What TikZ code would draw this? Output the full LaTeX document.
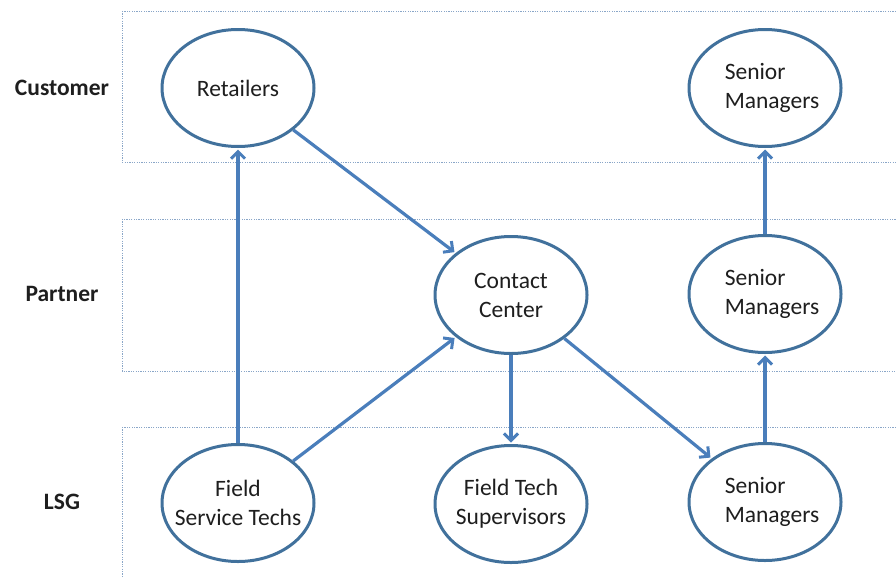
\documentclass[tikz,border=0pt]{standalone}
\usepackage{fontspec}
\setmainfont{Carlito}
\usetikzlibrary{arrows.meta,shapes.geometric}
\definecolor{ellc}{HTML}{41719C}
\definecolor{arrc}{HTML}{4A7EBB}
\definecolor{lanec}{HTML}{8AA6C8}
\definecolor{txt}{HTML}{1E1E1E}
\tikzset{
  lane/.style={draw=lanec, line width=0.9pt, dash pattern=on 1.2pt off 1.2pt},
  lanelabel/.style={font=\fontsize{23.5}{28}\selectfont\bfseries, text=txt, anchor=center},
  role/.style={ellipse, draw=ellc, line width=3pt, fill=white, minimum width=152pt, minimum height=117pt, inner xsep=-15pt, inner ysep=0pt, align=center, text=txt, font=\fontsize{23.5}{29}\selectfont},
  roleL/.style={role, align=left},
  flow/.style={draw=arrc, line width=3.2pt, -{Straight Barb[length=7pt,width=14pt,line width=3pt]}, shorten >=1.5pt}
}
\begin{document}
\begin{tikzpicture}[x=1pt,y=-1pt]
\useasboundingbox (0,0) rectangle (896,576);
\clip (0,0) rectangle (896,576);
% lanes
\draw[lane] (122,11) rectangle (910,162);
\draw[lane] (122,219) rectangle (910,371);
\draw[lane] (122,427) rectangle (910,590);
\node[lanelabel] (lc) at (62,88) {Customer};
\node[lanelabel] (lp) at (62,294) {Partner};
\node[lanelabel] (ll) at (62,502) {LSG};
% roles
\node[role] (ret) at (238,88) {Retailers};
\node[roleL] (smc) at (765,88) {\hspace*{14pt}Senior\\\hspace*{14pt}Managers};
\node[role] (cc) at (511,295) {Contact\\Center};
\node[roleL] (smp) at (765,294) {\hspace*{14pt}Senior\\\hspace*{14pt}Managers};
\node[role] (fst) at (238,503) {Field\\Service Techs};
\node[role] (fts) at (511,504) {Field Tech\\Supervisors};
\node[roleL] (sml) at (765,502) {\hspace*{14pt}Senior\\\hspace*{14pt}Managers};
% flows
\draw[flow] (fst) -- (ret);
\draw[flow] (ret) -- (cc);
\draw[flow] (fst) -- (cc);
\draw[flow] (cc) -- (fts);
\draw[flow] (cc) -- (sml);
\draw[flow] (sml) -- (smp);
\draw[flow] (smp) -- (smc);
\end{tikzpicture}
\end{document}
